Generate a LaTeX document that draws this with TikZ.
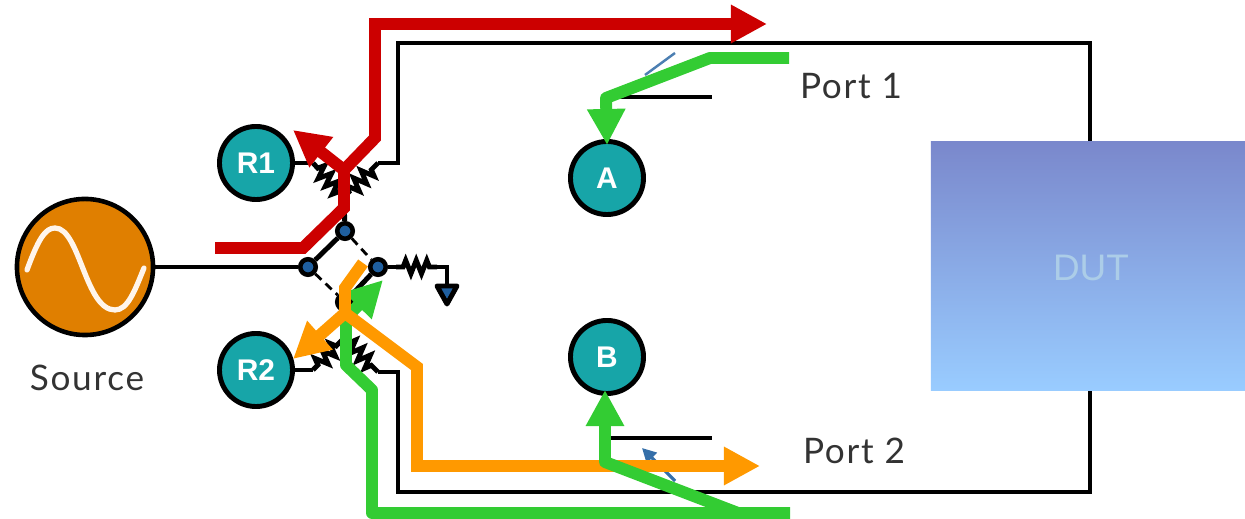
\documentclass[tikz,border=0pt]{standalone}
\usepackage{xcolor}
\usepackage{fontspec}
\setmainfont{Liberation Sans}
\newfontfamily\labelfont[LetterSpace=5]{Lato}
\usetikzlibrary{arrows.meta,decorations.pathmorphing}
\definecolor{flowred}{HTML}{CC0000}
\definecolor{floworange}{HTML}{FF9900}
\definecolor{flowgreen}{HTML}{33CC33}
\definecolor{rxteal}{HTML}{17A5A8}
\definecolor{srcorange}{HTML}{E07F00}
\definecolor{dotblue}{HTML}{1F5F9F}
\definecolor{duttop}{HTML}{7A88CC}
\definecolor{dutbottom}{HTML}{99CCFF}
\definecolor{dutinner}{HTML}{ACCDE8}
\tikzset{
  wire/.style={line width=1.4pt,black},
  dashwire/.style={line width=0.8pt,black,dash pattern=on 2.4pt off 1.6pt},
  reswire/.style={wire,decorate,decoration={zigzag,amplitude=1.9pt,segment length=3pt,pre length=2pt,post length=2pt}},
  rxnode/.style={circle,draw=black,line width=1.4pt,fill=rxteal,minimum size=0.73cm,inner sep=0pt,text=white,font=\bfseries\fontsize{8.5}{10}\selectfont},
  swnode/.style={circle,draw=black,line width=1.3pt,fill=dotblue,minimum size=0.155cm,inner sep=0pt},
  flow/.style={line width=3.4pt,line join=miter},
  flowtip/.style={-{Triangle[length=0.36cm,width=0.36cm]}},
  portlabel/.style={text=black!80,font=\labelfont\fontsize{10}{12}\selectfont},
}
\begin{document}
\begin{tikzpicture}[x=0.01cm,y=-0.01cm]
\useasboundingbox (0,0) rectangle (1245,519);

%receivers and source
\node [rxnode] (r1) at (256,163) {R1};
\node [rxnode] (r2) at (256,370) {R2};
\node [rxnode] (a) at (607,178) {A};
\node [rxnode] (b) at (607,357) {B};
\node [circle,draw=black,line width=1.3pt,fill=srcorange,minimum size=1.36cm,inner sep=0pt] (source) at (85,267) {};

%switch
\node [swnode] (swin) at (308,267) {};
\node [swnode] (swup) at (345,231) {};
\node [swnode] (swload) at (378,267) {};
\node [swnode] (swdown) at (345,302) {};

%bridge points
\coordinate (upjoin) at (344,197);
\coordinate (downjoin) at (344,338);
\coordinate (r1res) at (313,163);
\coordinate (r2res) at (313,370);
\coordinate (upres) at (378,163);
\coordinate (downres) at (378,372);
\coordinate (upcorner) at (398,163);
\coordinate (downcorner) at (398,372);
\coordinate (boxtl) at (398,43);
\coordinate (boxbl) at (398,492);
\coordinate (boxtr) at (1090,43);
\coordinate (boxbr) at (1090,492);

%test set wiring
\draw [wire] (source) -- (swin) ;
\draw [wire] (swin) -- (swup) -- (upjoin) ;
\draw [wire] (swload) -- (swdown) -- (downjoin) ;
\draw [dashwire] (swup) -- (swload) ;
\draw [dashwire] (swin) -- (swdown) ;
\draw [wire] (r1) -- (r1res) ;
\draw [wire] (r2) -- (r2res) ;
\draw [reswire] (r1res) -- (upjoin) ;
\draw [reswire] (r2res) -- (downjoin) ;
\draw [reswire] (upjoin) -- (upres) ;
\draw [reswire] (downjoin) -- (downres) ;
\draw [wire] (upres) -- (upcorner) -- (boxtl) -- (boxtr) -- (boxbr) -- (boxbl) -- (downcorner) -- (downres) ;

%load to ground
\coordinate (loadin) at (396,267);
\coordinate (loadres) at (437,267);
\coordinate (gndcorner) at (447,267);
\coordinate (gndtop) at (447,285);
\draw [wire] (swload) -- (loadin) ;
\draw [reswire] (loadin) -- (loadres) ;
\draw [wire] (loadres) -- (gndcorner) -- (gndtop) ;
\draw [wire,fill=dotblue,line join=round] (437,286) -- (457,286) -- (447,304) -- cycle ;

%sine wave
\draw [line width=1.5pt,color=orange!8,line cap=round] (27,270) .. controls (38,240) and (45,228) .. (55,228) .. controls (80,228) and (85,310) .. (115,310) .. controls (128,310) and (135,290) .. (144,268) ;

%couplers
\coordinate (coupa) at (607,97);
\coordinate (coupaend) at (712,97);
\coordinate (coupb) at (607,438);
\coordinate (coupbend) at (712,438);
\draw [wire] (coupa) -- (coupaend) ;
\draw [wire] (coupb) -- (coupbend) ;
\coordinate (marka) at (645,75);
\coordinate (markaend) at (675,53);
\coordinate (markb) at (642,448);
\coordinate (markbend) at (675,481);
\draw [line width=0.7pt,dotblue!80] (marka) -- (markaend) ;
\draw [line width=0.9pt,dotblue!90,{Triangle[length=0.14cm,width=0.14cm]}-] (markb) -- (markbend) ;

%dut
\node [minimum width=3.14cm,minimum height=2.48cm,inner sep=0pt,top color=duttop,bottom color=dutbottom] (dut) at (1088,266) {};
\node [text=dutinner,font=\fontsize{10.5}{12}\selectfont] (dutlabel) at (1091,268) {DUT};

%labels
\node [portlabel] (sourcelabel) at (87,378) {Source};
\node [portlabel] (port1) at (851,86) {Port 1};
\node [portlabel] (port2) at (854,451) {Port 2};

%green flow back to source
\coordinate (gs1) at (790,513);
\coordinate (gs2) at (372,513);
\coordinate (gs3) at (372,390);
\coordinate (gs4) at (346,365);
\coordinate (gs5) at (346,318);
\coordinate (gs6) at (383,280);
\draw [flow,flowgreen,line join=round] (gs1) -- (gs2) -- (gs3) -- (gs4) -- (gs5) ;
\draw [flow,flowgreen,flowtip] (gs5) -- (gs6) ;

%red flow
\coordinate (rs1) at (215,248);
\coordinate (rs2) at (303,248);
\coordinate (rs3) at (344,208);
\coordinate (rs4) at (344,170);
\coordinate (rs5) at (375,138);
\coordinate (rs6) at (375,24);
\coordinate (rs7) at (767,24);
\coordinate (rs8) at (293,130);
\draw [flow,flowred,flowtip] (rs1) -- (rs2) -- (rs3) -- (rs4) -- (rs5) -- (rs6) -- (rs7) ;
\draw [flow,flowred,flowtip] (rs4) -- (rs8) ;

%orange flow
\coordinate (os1) at (363,263);
\coordinate (os2) at (345,288);
\coordinate (os3) at (345,313);
\coordinate (os4) at (417,367);
\coordinate (os5) at (417,466);
\coordinate (os6) at (760,466);
\coordinate (os7) at (293,359);
\draw [flow,floworange,flowtip] (os1) -- (os2) -- (os3) -- (os4) -- (os5) -- (os6) ;
\draw [flow,floworange,flowtip] (os3) -- (os7) ;

%green flows to a and b
\coordinate (ga1) at (789,58);
\coordinate (ga2) at (710,58);
\coordinate (ga3) at (606,98);
\coordinate (gb1) at (738,513);
\coordinate (gb2) at (605,462);
\coordinate (gatip) at (607,145);
\coordinate (gbtip) at (605,390);
\draw [flow,flowgreen,flowtip,line join=round] (ga1) -- (ga2) -- (ga3) -- (gatip) ;
\draw [flow,flowgreen,flowtip,line join=round] (gb1) -- (gb2) -- (gbtip) ;

\end{tikzpicture}
\end{document}
